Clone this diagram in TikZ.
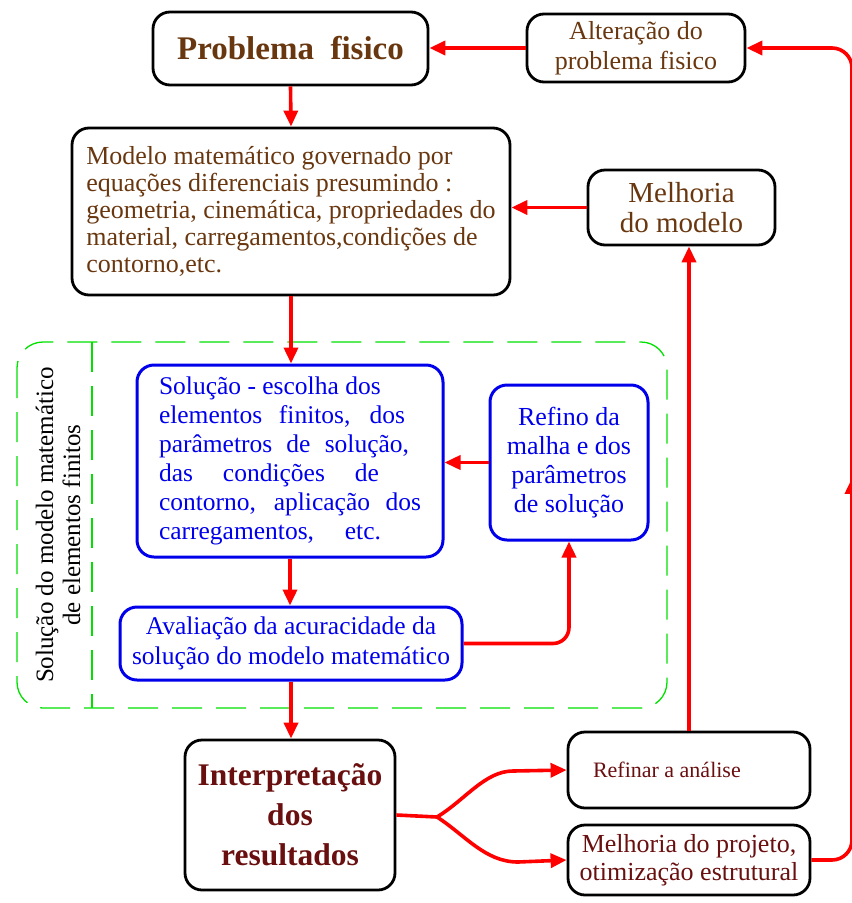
\documentclass[tikz,border=0pt]{standalone}
\usepackage{fontspec}
\setmainfont{Liberation Serif}
\usetikzlibrary{arrows.meta,decorations.markings}
\definecolor{redA}{RGB}{255,0,0}
\definecolor{blueB}{RGB}{0,0,235}
\definecolor{greenC}{RGB}{0,225,0}
\definecolor{brownT}{RGB}{105,55,15}
\definecolor{maroonT}{RGB}{105,15,15}
\begin{document}
\begin{tikzpicture}[x=1pt,y=-1pt,
  box/.style={draw=black, line width=2.8pt, rounded corners=17pt, inner sep=0pt, align=center, text=brownT},
  bbox/.style={draw=blueB, line width=3pt, rounded corners=17pt, inner sep=0pt, align=left, text=blueB},
  conn/.style={draw=redA, line width=3.6pt},
  arr/.style={conn, -{Triangle[length=16pt,width=14pt]}},
  greenframe/.style={draw=greenC, line width=1.3pt, dash pattern=on 30pt off 14pt}
]
\useasboundingbox (0,0) rectangle (852,903);

% green frame
\draw[greenframe, rounded corners=26pt] (17,342) rectangle (667,708);
\draw[greenframe] (92,342) -- (92,708);
\node[rotate=90, align=center, text=black, font=\fontsize{25}{27}\selectfont] (rotlab) at (58,525)
  {Solução do modelo matemático\\de elementos finitos};

% nodes
\node[box, minimum width=275pt, minimum height=73pt, font=\fontsize{33}{38}\selectfont\bfseries] (prob) at (290.5,48.5) {Problema\ \ fisico};
\node[box, minimum width=218pt, minimum height=68pt, font=\fontsize{26}{30}\selectfont] (alter) at (636,48) {Alteração do\\problema fisico};
\node[box, align=left, minimum width=438pt, minimum height=167pt, font=\fontsize{26}{27}\selectfont] (modelo) at (291,211.5)
  {Modelo matemático governado por\\equações diferenciais presumindo :\\geometria, cinemática, propriedades do\\material, carregamentos,condições de\\contorno,etc.};
\node[box, minimum width=187pt, minimum height=75pt, font=\fontsize{29}{30}\selectfont] (melmod) at (681.5,207.5) {Melhoria\\do modelo};

\node[bbox, minimum width=306pt, minimum height=192pt, font=\fontsize{25.5}{29}\selectfont] (sol) at (290,461)
  {Solução - escolha dos\\
   \makebox[246pt][s]{elementos finitos, dos}\\
   \makebox[250pt][s]{parâmetros de solução,}\\
   \makebox[220pt][s]{das condições de}\\
   \makebox[262pt][s]{contorno, aplicação dos}\\
   \makebox[222pt][s]{carregamentos, etc.}};
\node[bbox, align=center, minimum width=158pt, minimum height=155pt, font=\fontsize{26}{29}\selectfont] (refino) at (569,462.5)
  {Refino da\\malha e dos\\parâmetros\\de solução};
\node[bbox, align=center, minimum width=342pt, minimum height=73pt, font=\fontsize{25.5}{30}\selectfont] (aval) at (291,643.5)
  {Avaliação da acuracidade da\\solução do modelo matemático};

\node[box, text=maroonT, minimum width=210pt, minimum height=150pt, font=\fontsize{31.5}{40}\selectfont\bfseries] (interp) at (290,815)
  {Interpretação\\dos\\resultados};
\node[box, text=maroonT, minimum width=242pt, minimum height=76pt, font=\fontsize{22}{28}\selectfont] (refinar) at (689,770)
  {\makebox[242pt][l]{\hspace{25pt}Refinar a análise}};
\node[box, text=maroonT, minimum width=242pt, minimum height=70pt, font=\fontsize{26}{28}\selectfont] (melproj) at (689,860)
  {Melhoria do projeto,\\otimização estrutural};

% connectors
\draw[arr] (prob.south) -- (modelo.north);
\draw[arr] (alter.west) -- (alter.west -| prob.east);
\draw[arr] (melmod.west) -- (melmod.west -| modelo.east);
\draw[arr] (modelo.south) -- (modelo.south |- sol.north);
\draw[arr] (sol.south) -- (sol.south |- aval.north);
\draw[arr] (refino.west) -- (refino.west -| sol.east);
\draw[arr, rounded corners=16pt] (aval.east) -- (aval.east -| refino.south) -- (refino.south);
\draw[arr] (aval.south) -- (aval.south |- interp.north);
\draw[arr] (refinar.north) -- (refinar.north |- melmod.south);

\coordinate (j) at (437,817);
\draw[conn] (interp.east) -- (j);
\draw[arr] (j) .. controls (465,800) and (485,771) .. (513,771) -- (refinar.west);
\draw[arr] (j) .. controls (465,835) and (485,862) .. (518,862) -- (melproj.west);

\draw[arr, rounded corners=20pt,
  postaction={decorate},
  decoration={markings, mark=at position 0.44 with {\arrow{Triangle[length=16pt,width=14pt]}}}]
  (melproj.east) -- (852,860) -- (852,48) -- (alter.east);
\end{tikzpicture}
\end{document}
